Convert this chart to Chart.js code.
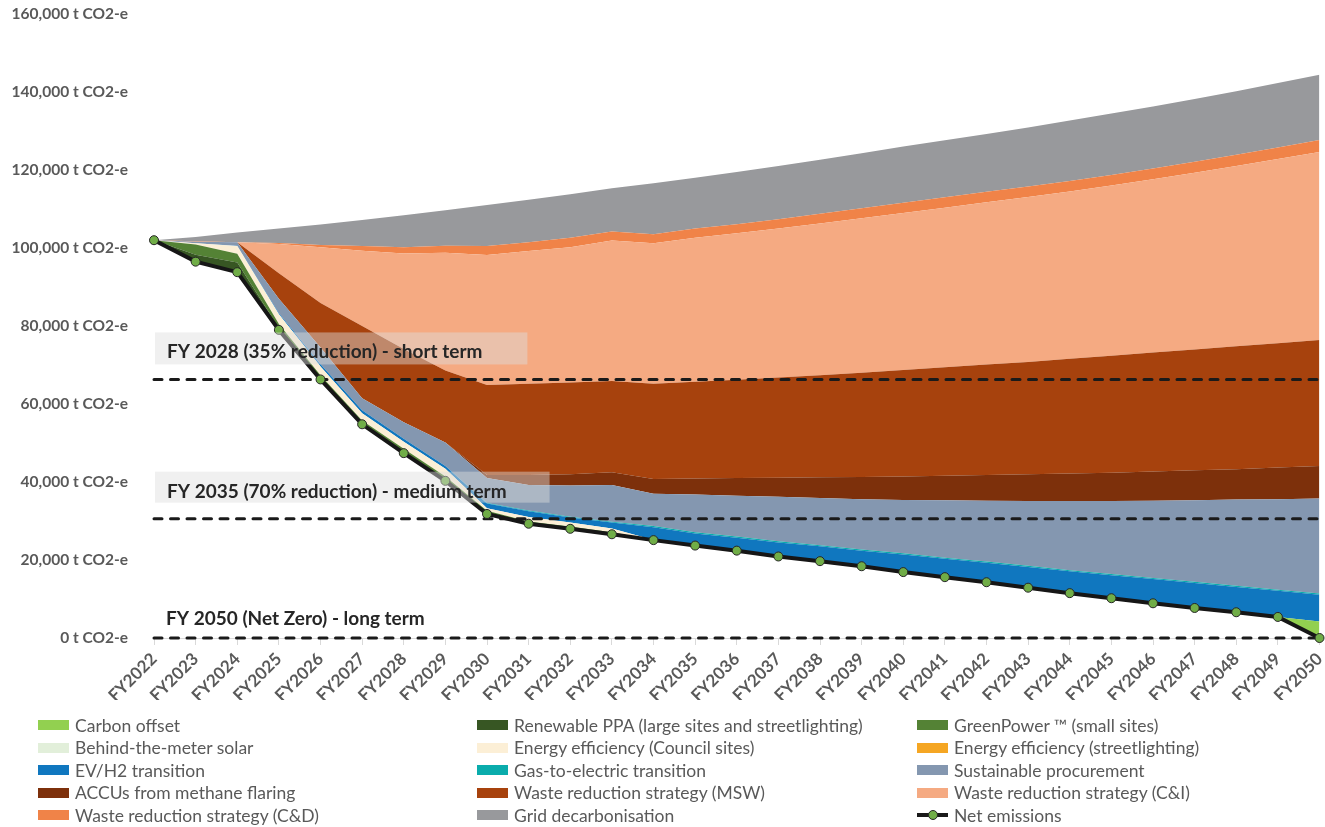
<!DOCTYPE html>
<html>
<head>
<meta charset="utf-8">
<script src="https://cdn.jsdelivr.net/npm/chart.js@4.4.1/dist/chart.umd.min.js"></script>
<style>
  html, body { margin: 0; padding: 0; background: #fff; }
  #wrap { position: relative; width: 1325px; height: 827px; overflow: hidden; background: #fff; }
  #chart { position: absolute; left: 0; top: 0; }
  #legend { position: absolute; left: 0; top: 0; width: 1325px; height: 827px; font-family: Lato, "Open Sans", sans-serif; font-size: 17.5px; color: #595959; }
  .item { position: absolute; height: 20px; display: flex; align-items: center; white-space: nowrap; }
  .sw { width: 31px; height: 10px; margin-right: 6px; flex: none; }
  .swline { position: relative; width: 31px; height: 10px; margin-right: 6px; flex: none; }
  .swline::before { content: ""; position: absolute; left: 0; right: 0; top: 3px; height: 4px; background: #1a1a1a; }
  .swline::after { content: ""; position: absolute; left: 11px; top: 0; width: 8px; height: 8px; border-radius: 50%; background: #70AD47; border: 1px solid #262626; }
</style>
</head>
<body>
<div id="wrap">
  <canvas id="chart" width="1325" height="700" style="width:1325px;height:700px"></canvas>
  <div id="legend"></div>
</div>
<script>
// Financial years on the category axis
const years = ['FY2022','FY2023','FY2024','FY2025','FY2026','FY2027','FY2028','FY2029','FY2030',
  'FY2031','FY2032','FY2033','FY2034','FY2035','FY2036','FY2037','FY2038','FY2039','FY2040',
  'FY2041','FY2042','FY2043','FY2044','FY2045','FY2046','FY2047','FY2048','FY2049','FY2050'];

// Net emissions after all abatement (t CO2-e)
const netEmissions = [102000, 96500, 93800, 79000, 66300, 54800, 47400, 40300, 31800, 29300, 28000, 26600, 25100,
  23700, 22400, 20900, 19700, 18400, 16900, 15600, 14300, 12900, 11500, 10200, 8900, 7700, 6600, 5400, 0];

// Abatement wedges, stacked on top of net emissions (t CO2-e)
const carbonOffset = [0,0,0,0,0,0,0,0,0,0,0,0,0,0,0,0,0,0,0,0,0,0,0,0,0,0,0,0,4200];
const renewablePPA = [0,1800,2500,500,400,400,400,400,300,200,200,200,0,0,0,0,0,0,0,0,0,0,0,0,0,0,0,0,0];
const greenPower = [0,2600,2200,1000,700,600,700,700,500,400,400,300,0,0,0,0,0,0,0,0,0,0,0,0,0,0,0,0,0];
const behindMeterSolar = [0,0,0,0,0,0,0,0,0,0,0,0,0,0,0,0,0,0,0,0,0,0,0,0,0,0,0,0,0];
const efficiencyCouncil = [0,300,2000,2500,2200,1800,1800,2000,700,1100,1000,1000,0,0,0,0,0,0,0,0,0,0,0,0,0,0,0,0,0];
const efficiencyStreetlights = [0,0,0,0,0,0,0,0,0,0,0,0,0,0,0,0,0,0,0,0,0,0,0,0,0,0,0,0,0];
const evH2Transition = [0,0,100,300,600,800,800,700,1200,1500,1300,1500,3300,3100,3300,3600,3800,4000,4500,
  4700,5000,5300,5600,5900,6200,6400,6500,6700,6900];
const gasToElectric = [0,0,0,0,0,0,0,0,100,200,200,200,300,300,300,300,300,300,300,300,300,300,300,300,300,300,300,300,300];
const sustainableProcurement = [0,400,900,3700,4300,3100,4200,6000,6400,6500,8000,9400,8300,9700,10500,11400,12100,
  12900,13700,14700,15600,16600,17700,18700,19800,20900,22100,23200,24400];
const methaneFlaringACCUs = [0,0,0,0,0,0,0,0,800,2600,2900,3300,3800,4100,4500,4900,5300,5700,6000,6300,6600,6900,
  7100,7300,7500,7700,7800,8100,8300];
const wasteMSW = [0,0,0,6500,11400,18500,18800,18500,23100,23400,23500,23400,24400,24800,25200,25700,26200,26700,
  27300,27800,28300,28800,29400,30000,30500,31000,31500,31900,32300];
const wasteCI = [0,0,0,7500,14300,19300,24500,30200,33300,34000,34700,36000,36000,36900,37600,38200,38900,39600,
  40300,40900,41600,42300,42900,43600,44400,45300,46200,47200,48200];
const wasteCD = [0,100,0,300,600,1200,1600,1800,2300,2300,2400,2300,2300,2400,2300,2400,2500,2600,2600,2700,2700,
  2700,2700,2700,2800,2800,2900,3000,3100];
const gridDecarbonisation = [0,1100,2500,3700,5200,6700,8200,9100,10500,10900,11200,11100,13100,13000,13400,13600,
  13800,14100,14400,14600,14800,15100,15500,15800,15900,16100,16300,16500,16700];

// Reduction targets (t CO2-e) and their captions
const targetLevels = [66300, 30600, 0];
const targetCaptions = ['FY 2028 (35% reduction) - short term', 'FY 2035 (70% reduction) - medium term', 'FY 2050 (Net Zero) - long term'];

const wedges = [
  ['Carbon offset', carbonOffset, '#92D050'],
  ['Renewable PPA (large sites and streetlighting)', renewablePPA, '#375623'],
  ['GreenPower \u2122 (small sites)', greenPower, '#548235'],
  ['Behind-the-meter solar', behindMeterSolar, '#E2EFDA'],
  ['Energy efficiency (Council sites)', efficiencyCouncil, '#FCEFD6'],
  ['Energy efficiency (streetlighting)', efficiencyStreetlights, '#F5A623'],
  ['EV/H2 transition', evH2Transition, '#1077BF'],
  ['Gas-to-electric transition', gasToElectric, '#0AACAC'],
  ['Sustainable procurement', sustainableProcurement, '#8497B0'],
  ['ACCUs from methane flaring', methaneFlaringACCUs, '#7D300B'],
  ['Waste reduction strategy (MSW)', wasteMSW, '#A7420D'],
  ['Waste reduction strategy (C&I)', wasteCI, '#F5AA82'],
  ['Waste reduction strategy (C&D)', wasteCD, '#F08348'],
  ['Grid decarbonisation', gridDecarbonisation, '#98999C']
];

const FONT = 'Lato, "Open Sans", sans-serif';

const datasets = [{
  label: 'Net emissions',
  type: 'line',
  data: netEmissions,
  stack: 'emissions',
  order: -2,
  fill: false,
  borderColor: '#161616',
  borderWidth: 4,
  pointRadius: 4.5,
  pointBackgroundColor: '#70AD47',
  pointBorderColor: '#262626',
  pointBorderWidth: 1,
  tension: 0,
  clip: false
}];

wedges.forEach(([label, data, color]) => {
  datasets.push({
    label, data, type: 'line', stack: 'emissions', order: 0,
    fill: '-1', backgroundColor: color, borderColor: 'rgba(0,0,0,0)', borderWidth: 0,
    pointRadius: 0, tension: 0
  });
});

targetLevels.forEach((level, i) => {
  datasets.push({
    label: targetCaptions[i], type: 'line', stack: 'target' + i, order: -1,
    data: years.map(() => level), fill: false,
    borderColor: '#1a1a1a', borderWidth: 3, borderDash: [8, 8.5], borderCapStyle: 'round',
    pointRadius: 0, tension: 0, clip: false, isTarget: true
  });
});

// Caption boxes above each target line
const targetCaptionPlugin = {
  id: 'targetCaptions',
  afterDatasetsDraw(chart) {
    const {ctx, scales: {y}} = chart;
    const specs = [
      {boxTop: 47, boxBottom: 15, base: 21, x: 167, pad: 45, box: true},
      {boxTop: 47, boxBottom: 16, base: 20.5, x: 167, pad: 43, box: true},
      {base: 13, x: 166, box: false}
    ];
    ctx.save();
    ctx.font = 'bold 19px ' + FONT;
    targetLevels.forEach((level, i) => {
      const py = y.getPixelForValue(level);
      const s = specs[i];
      const w = ctx.measureText(targetCaptions[i]).width;
      if (s.box) {
        ctx.fillStyle = 'rgba(222,222,222,0.45)';
        ctx.fillRect(155, py - s.boxTop, (s.x - 155) + w + s.pad, s.boxTop - s.boxBottom);
      }
      ctx.fillStyle = '#262626';
      ctx.textBaseline = 'alphabetic';
      ctx.textAlign = 'left';
      ctx.fillText(targetCaptions[i], s.x, py - s.base);
    });
    ctx.restore();
  }
};

const chart = new Chart(document.getElementById('chart'), {
  type: 'line',
  data: { labels: years, datasets },
  options: {
    responsive: false,
    animation: false,
    events: [],
    layout: { padding: { top: 14, right: 0, bottom: 0, left: 0 } },
    plugins: { legend: { display: false }, tooltip: { enabled: false } },
    scales: {
      x: {
        offset: false,
        grid: { display: true, drawOnChartArea: false, drawTicks: true, tickLength: 7, color: '#d9d9d9' },
        border: { display: true, color: '#d9d9d9' },
        ticks: { autoSkip: false, minRotation: 45, maxRotation: 45, padding: 4, color: '#595959',
          font: { family: FONT, size: 17, weight: 'bold' } },
        afterFit(scale) { scale.paddingLeft = 0; scale.paddingRight = 0; scale.height = 62; }
      },
      y: {
        stacked: true,
        min: 0, max: 160000,
        grid: { display: false },
        border: { display: false },
        ticks: { stepSize: 20000, padding: 18, color: '#595959',
          font: { family: FONT, size: 15.5, weight: 'bold' },
          callback: (v) => Number(v).toLocaleString('en-US') + ' t CO2-e' },
        afterFit(scale) { scale.width = 154; scale.paddingTop = 0; scale.paddingBottom = 0; }
      }
    }
  },
  plugins: [targetCaptionPlugin]
});

// Three-column legend built from the chart's own datasets
const legendEl = document.getElementById('legend');
const legendOrder = chart.data.datasets.filter(d => !d.isTarget && d.label !== 'Net emissions')
  .concat(chart.data.datasets.filter(d => d.label === 'Net emissions'));
const colX = [38, 477, 917];
const rowY = [725, 747.5, 770, 792.5, 815];
legendOrder.forEach((ds, i) => {
  const item = document.createElement('div');
  item.className = 'item';
  item.style.left = colX[i % 3] + 'px';
  item.style.top = (rowY[Math.floor(i / 3)] - 10) + 'px';
  const sw = document.createElement('span');
  if (ds.label === 'Net emissions') {
    sw.className = 'swline';
  } else {
    sw.className = 'sw';
    sw.style.background = ds.backgroundColor;
  }
  const tx = document.createElement('span');
  tx.textContent = ds.label;
  item.appendChild(sw);
  item.appendChild(tx);
  legendEl.appendChild(item);
});
</script>
</body>
</html>
